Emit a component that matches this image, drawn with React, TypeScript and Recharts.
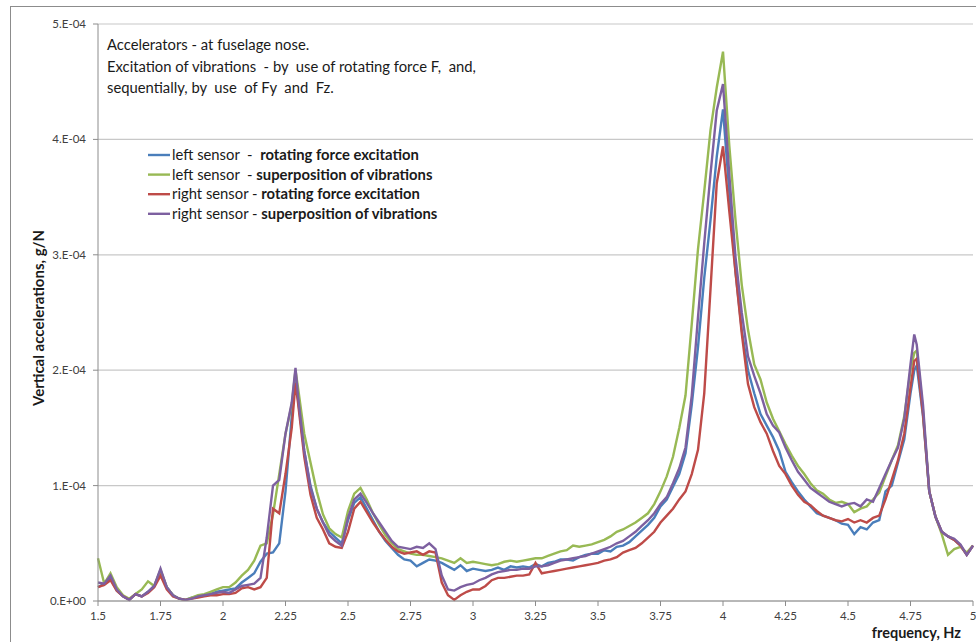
import React from 'react'
import { LineChart, Line, XAxis, YAxis, CartesianGrid } from 'recharts'

// frequency, Hz
const FREQ = [
  1.5, 1.525, 1.55, 1.575, 1.6, 1.625, 1.65, 1.675, 1.7, 1.725,
  1.75, 1.775, 1.8, 1.825, 1.85, 1.875, 1.9, 1.925, 1.95, 1.975,
  2.0, 2.025, 2.05, 2.075, 2.1, 2.125, 2.15, 2.175, 2.2, 2.225,
  2.25, 2.275, 2.29, 2.3, 2.325, 2.35, 2.375, 2.4, 2.425, 2.45, 2.475,
  2.5, 2.525, 2.55, 2.575, 2.6, 2.625, 2.65, 2.675, 2.7, 2.725,
  2.75, 2.775, 2.8, 2.825, 2.85, 2.875, 2.9, 2.925, 2.95, 2.975,
  3.0, 3.025, 3.05, 3.075, 3.1, 3.125, 3.15, 3.175, 3.2, 3.225,
  3.25, 3.275, 3.3, 3.325, 3.35, 3.375, 3.4, 3.425, 3.45, 3.475,
  3.5, 3.525, 3.55, 3.575, 3.6, 3.625, 3.65, 3.675, 3.7, 3.725,
  3.75, 3.775, 3.8, 3.825, 3.85, 3.875, 3.9, 3.925, 3.95, 3.975,
  4.0, 4.025, 4.05, 4.075, 4.1, 4.125, 4.15, 4.175, 4.2, 4.225,
  4.25, 4.275, 4.3, 4.325, 4.35, 4.375, 4.4, 4.425, 4.45, 4.475,
  4.5, 4.525, 4.55, 4.575, 4.6, 4.625, 4.65, 4.675, 4.7, 4.725,
  4.75, 4.765, 4.775, 4.8, 4.825, 4.85, 4.875, 4.9, 4.925, 4.95, 4.975,
  5.0,
]

// vertical accelerations, in units of 1.E-04 g/N
const LEFT_ROTATING = [
  0.12, 0.15, 0.2, 0.09, 0.04, 0.01, 0.06, 0.04, 0.08, 0.13,
  0.26, 0.12, 0.05, 0.02, 0.01, 0.03, 0.04, 0.05, 0.06, 0.08,
  0.09, 0.1, 0.11, 0.16, 0.2, 0.24, 0.34, 0.41, 0.42, 0.5,
  0.95, 1.6, 1.97, 1.75, 1.3, 1.0, 0.8, 0.68, 0.6, 0.55, 0.5,
  0.7, 0.85, 0.9, 0.8, 0.7, 0.6, 0.52, 0.46, 0.4, 0.36,
  0.35, 0.3, 0.33, 0.36, 0.35, 0.33, 0.3, 0.27, 0.31, 0.26,
  0.28, 0.27, 0.26, 0.27, 0.29, 0.27, 0.3, 0.29, 0.3, 0.29,
  0.32, 0.3, 0.33, 0.34, 0.36, 0.36, 0.35, 0.38, 0.4, 0.41,
  0.41, 0.44, 0.43, 0.47, 0.48, 0.51, 0.56, 0.61, 0.66, 0.72,
  0.82, 0.88, 0.99, 1.1, 1.28, 1.7, 2.2, 2.8, 3.3, 3.85,
  4.26, 3.55, 2.85, 2.35, 2.0, 1.8, 1.62, 1.52, 1.42, 1.3,
  1.12, 1.03, 0.95, 0.88, 0.82, 0.76, 0.74, 0.72, 0.7, 0.67,
  0.66, 0.58, 0.64, 0.62, 0.68, 0.7, 0.95, 1.0, 1.2, 1.4,
  1.8, 2.0, 2.04, 1.6, 0.95, 0.73, 0.6, 0.56, 0.53, 0.48, 0.4,
  0.48,
]

const LEFT_SUPERPOSITION = [
  0.37, 0.15, 0.24, 0.12, 0.05, 0.02, 0.06, 0.1, 0.17, 0.13,
  0.27, 0.12, 0.05, 0.02, 0.01, 0.03, 0.05, 0.06, 0.08, 0.1,
  0.12, 0.12, 0.16, 0.22, 0.27, 0.35, 0.48, 0.5, 0.75, 1.1,
  1.45, 1.7, 2.0, 1.85, 1.45, 1.2, 0.95, 0.75, 0.63, 0.58, 0.55,
  0.78, 0.93, 0.98, 0.88, 0.76, 0.66, 0.57, 0.5, 0.45, 0.43,
  0.41, 0.4, 0.4, 0.39, 0.38, 0.37, 0.35, 0.33, 0.37, 0.33,
  0.34, 0.33, 0.32, 0.31, 0.32, 0.34, 0.35, 0.34, 0.35, 0.36,
  0.37, 0.37, 0.39, 0.41, 0.43, 0.44, 0.48, 0.47, 0.48, 0.49,
  0.51, 0.53, 0.56, 0.6, 0.62, 0.65, 0.68, 0.72, 0.76, 0.84,
  0.95, 1.08, 1.25, 1.5, 1.78, 2.4, 3.05, 3.55, 4.08, 4.45,
  4.76, 3.95, 3.3, 2.74, 2.35, 2.05, 1.92, 1.72, 1.58, 1.47,
  1.36, 1.26, 1.17, 1.1, 1.02, 0.96, 0.93, 0.88, 0.85, 0.86,
  0.84, 0.77, 0.8, 0.82, 0.88, 0.94, 1.08, 1.22, 1.35, 1.6,
  2.0, 2.15, 2.17, 1.65, 0.95, 0.73, 0.58, 0.4, 0.45, 0.47, 0.42,
  0.48,
]

const RIGHT_ROTATING = [
  0.12, 0.14, 0.18, 0.09, 0.04, 0.01, 0.06, 0.04, 0.07, 0.12,
  0.22, 0.1, 0.04, 0.02, 0.01, 0.02, 0.03, 0.04, 0.05, 0.05,
  0.06, 0.06, 0.07, 0.11, 0.12, 0.1, 0.12, 0.2, 0.8, 0.76,
  1.1, 1.5, 1.89, 1.72, 1.25, 0.92, 0.72, 0.62, 0.5, 0.47, 0.46,
  0.6, 0.8, 0.86, 0.77, 0.68, 0.6, 0.53, 0.47, 0.43, 0.41,
  0.42, 0.43, 0.4, 0.43, 0.42, 0.16, 0.05, 0.01, 0.05, 0.08,
  0.1, 0.1, 0.13, 0.18, 0.2, 0.2, 0.21, 0.22, 0.22, 0.23,
  0.33, 0.24, 0.25, 0.26, 0.27, 0.28, 0.29, 0.3, 0.31, 0.32,
  0.33, 0.35, 0.36, 0.38, 0.42, 0.44, 0.46, 0.5, 0.55, 0.6,
  0.68, 0.74, 0.8, 0.88, 0.95, 1.1, 1.31, 1.8, 2.7, 3.62,
  3.94, 3.38, 2.85, 2.32, 1.88, 1.68, 1.55, 1.45, 1.3, 1.17,
  1.1, 1.0, 0.92, 0.86, 0.83, 0.78, 0.74, 0.72, 0.7, 0.69,
  0.71, 0.68, 0.7, 0.68, 0.72, 0.74, 0.88, 1.05, 1.22, 1.45,
  1.85, 2.08, 2.1, 1.62, 0.95, 0.73, 0.6, 0.56, 0.53, 0.48, 0.4,
  0.48,
]

const RIGHT_SUPERPOSITION = [
  0.16, 0.15, 0.22, 0.1, 0.04, 0.01, 0.06, 0.04, 0.08, 0.13,
  0.28, 0.12, 0.05, 0.02, 0.01, 0.02, 0.04, 0.05, 0.06, 0.07,
  0.08, 0.07, 0.1, 0.13, 0.14, 0.15, 0.2, 0.55, 1.0, 1.05,
  1.45, 1.72, 2.02, 1.78, 1.3, 0.98, 0.8, 0.68, 0.57, 0.52, 0.48,
  0.72, 0.88, 0.93, 0.85, 0.76, 0.68, 0.6, 0.52, 0.47, 0.46,
  0.45, 0.47, 0.46, 0.5, 0.45, 0.22, 0.1, 0.09, 0.12, 0.14,
  0.15, 0.18, 0.2, 0.23, 0.25, 0.26, 0.27, 0.27, 0.28, 0.28,
  0.3, 0.3, 0.31, 0.33, 0.35, 0.36, 0.37, 0.38, 0.39, 0.41,
  0.43, 0.45, 0.47, 0.5, 0.52, 0.56, 0.6, 0.65, 0.7, 0.76,
  0.84, 0.9, 1.02, 1.15, 1.33, 1.78, 2.46, 3.1, 3.7, 4.25,
  4.48, 3.7, 2.98, 2.5, 2.12, 1.95, 1.8, 1.62, 1.52, 1.46,
  1.33, 1.22, 1.12, 1.05, 0.98, 0.94, 0.9, 0.86, 0.84, 0.82,
  0.84, 0.85, 0.82, 0.88, 0.86, 0.98, 1.1, 1.22, 1.33, 1.58,
  2.05, 2.31, 2.22, 1.7, 0.95, 0.73, 0.6, 0.56, 0.54, 0.49, 0.4,
  0.48,
]

const X_TICKS = [1.5, 1.75, 2, 2.25, 2.5, 2.75, 3, 3.25, 3.5, 3.75, 4, 4.25, 4.5, 4.75, 5]
const Y_TICKS = [0, 1, 2, 3, 4, 5]

const NOTE_LINES = [
  'Accelerators - at fuselage nose.',
  'Excitation of vibrations  - by  use of rotating force F,  and,',
  'sequentially, by  use  of Fy  and  Fz.',
]

const SERIES = [
  { key: 'leftRot', label: 'left sensor  -  ', bold: 'rotating force excitation', color: '#4a7ebb', values: LEFT_ROTATING },
  { key: 'leftSup', label: 'left sensor  - ', bold: 'superposition of vibrations', color: '#98b954', values: LEFT_SUPERPOSITION },
  { key: 'rightRot', label: 'right sensor - ', bold: 'rotating force excitation', color: '#be4b48', values: RIGHT_ROTATING },
  { key: 'rightSup', label: 'right sensor - ', bold: 'superposition of vibrations', color: '#7d60a0', values: RIGHT_SUPERPOSITION },
]

const data = FREQ.map((f, i) => {
  const row: Record<string, number> = { f }
  SERIES.forEach(s => { row[s.key] = s.values[i] })
  return row
})

const FONT = 'Lato, "Open Sans", sans-serif'
const tickStyle = { fill: '#404040', fontSize: 11.5, fontFamily: FONT }

export default function App() {
  return (
    <div style={{ position: 'absolute', left: 0, top: 0, width: 976, height: 642, background: '#fff', overflow: 'hidden' }}>
      <div style={{ position: 'absolute', left: 10, top: 6, width: 1000, height: 700, border: '1px solid #8c8c8c' }} />
      <div style={{ position: 'absolute', left: 0, top: 0 }}>
        <LineChart width={976} height={642} data={data} margin={{ top: 24, right: 3, bottom: 11, left: 38 }}>
          <CartesianGrid vertical={false} stroke="#c8c8c8" strokeWidth={1.2} />
          <XAxis
            dataKey="f"
            type="number"
            domain={[1.5, 5]}
            ticks={X_TICKS}
            height={30}
            tick={tickStyle}
            tickSize={5}
            tickMargin={6}
            axisLine={{ stroke: '#8c8c8c' }}
            tickLine={{ stroke: '#8c8c8c' }}
          />
          <YAxis
            domain={[0, 5]}
            ticks={Y_TICKS}
            width={60}
            tick={tickStyle}
            tickSize={5}
            tickMargin={7}
            tickFormatter={(v: number) => (v === 0 ? '0.E+00' : `${v}.E-04`)}
            axisLine={{ stroke: '#8c8c8c' }}
            tickLine={{ stroke: '#8c8c8c' }}
          />
          {SERIES.map(s => (
            <Line
              key={s.key}
              dataKey={s.key}
              type="linear"
              stroke={s.color}
              strokeWidth={2.4}
              dot={false}
              isAnimationActive={false}
            />
          ))}
        </LineChart>
      </div>
      <svg width={976} height={642} style={{ position: 'absolute', left: 0, top: 0, pointerEvents: 'none' }} fontFamily={FONT}>
        {NOTE_LINES.map((t, i) => (
          <text key={i} x={107} y={50 + i * 21.5} fontSize={14.8} fill="#1a1a1a" style={{ whiteSpace: 'pre' }}>{t}</text>
        ))}
        {SERIES.map((s, i) => (
          <g key={s.key}>
            <line x1={148} x2={170} y1={155 + i * 19.6} y2={155 + i * 19.6} stroke={s.color} strokeWidth={2.4} />
            <text x={172} y={160 + i * 19.6} fontSize={14.8} fill="#1a1a1a" style={{ whiteSpace: 'pre' }}>
              <tspan>{s.label}</tspan>
              <tspan fontWeight="bold">{s.bold}</tspan>
            </text>
          </g>
        ))}
        <text transform="translate(44,318) rotate(-90)" textAnchor="middle" fontSize={15} fontWeight="bold" fill="#1a1a1a">
          Vertical accelerations, g/N
        </text>
        <text x={961} y={638} textAnchor="end" fontSize={14.5} fontWeight="bold" fill="#1a1a1a">frequency, Hz</text>
      </svg>
    </div>
  )
}
